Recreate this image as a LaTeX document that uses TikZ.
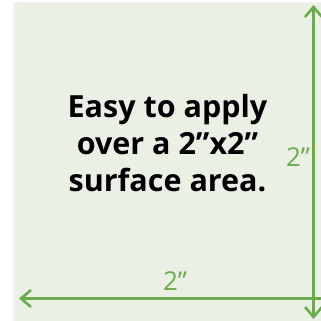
\documentclass[tikz,border=0pt]{standalone}
\usepackage{fontspec}
\setmainfont{Open Sans}
\usetikzlibrary{arrows.meta}
\definecolor{bg}{HTML}{EBF0E5}
\definecolor{dimgreen}{HTML}{6AAB4B}
\tikzset{
  barb/.tip={Straight Barb[length=10pt,width=17pt,line width=2.6pt]},
  dimline/.style={draw=dimgreen, line width=3.4pt},
  dimlabel/.style={text=dimgreen, font=\fontsize{26}{30}\selectfont, inner sep=0pt},
  maintext/.style={font=\fontsize{30.5}{37}\selectfont\bfseries, align=center, inner sep=0pt}
}
\begin{document}
\begin{tikzpicture}[x=1pt,y=-1pt]
\useasboundingbox (0,0) rectangle (321,321);
\fill[white] (0,0) rectangle (321,321);
% faint shadow
\fill[black!6] (14,2) rectangle (321,321);
\fill[black!3] (12,0) rectangle (14,321);
\fill[bg] (17,4) rectangle (321,321);
\node[maintext] (txt) at (167.5,143) {Easy to apply\\over a 2”x2”\\surface area.};
\coordinate (vb) at (313.5,319);
\coordinate (vt) at (313.5,5);
\coordinate (hr) at (321,298.5);
\coordinate (hl) at (19,298.5);
\draw[dimline, -barb] (hr) -- (hl);
\draw[dimline, barb-barb] (vb) -- (vt);
\node[dimlabel] (lb) at (175,281) {2”};
\node[dimlabel] (lr) at (298,157) {2”};
\end{tikzpicture}
\end{document}
